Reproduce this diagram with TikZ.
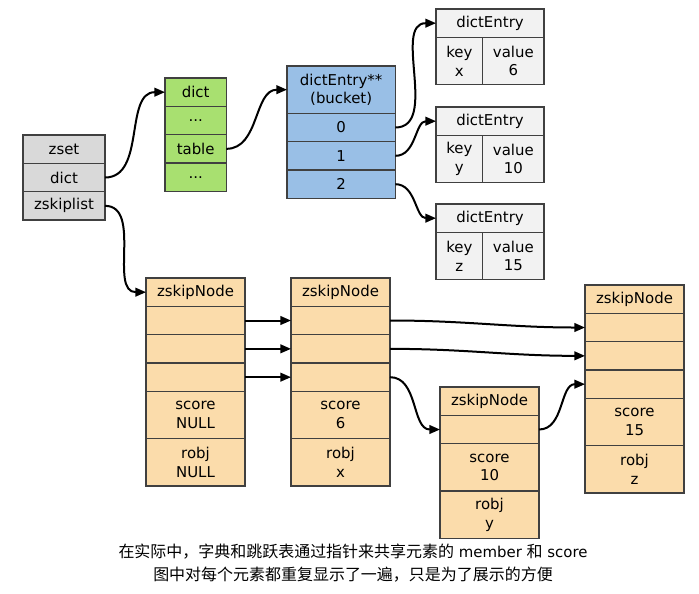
\documentclass[tikz,border=0pt]{standalone}
\usepackage{fontspec}
\setmainfont{DejaVu Sans}
\newfontfamily\cjk{Noto Sans CJK SC}[Scale=1.07]
\usepackage{xcolor}
\usetikzlibrary{positioning,arrows.meta,calc}

\definecolor{zsetgray}{HTML}{D9D9D9}
\definecolor{dictgreen}{HTML}{A8E070}
\definecolor{bucketblue}{HTML}{99BFE6}
\definecolor{entrygray}{HTML}{F2F2F2}
\definecolor{nodewheat}{HTML}{FBDCAB}

\tikzset{
  cell/.style={draw=black!75, line width=0.8pt, minimum height=21.25pt,
    inner sep=0pt, outer sep=0pt, align=center,
    font=\fontsize{11.2}{14}\selectfont},
  tall/.style={minimum height=35.5pt},
  zsetcell/.style={cell, fill=zsetgray, minimum width=61.5pt},
  dictcell/.style={cell, fill=dictgreen, minimum width=46pt},
  bucketcell/.style={cell, fill=bucketblue, minimum width=81.25pt},
  entrycell/.style={cell, fill=entrygray},
  skipcell/.style={cell, fill=nodewheat, minimum width=74.25pt},
  link/.style={-{Triangle[length=8pt,width=6.5pt]}, line width=1.5pt}
}

\begin{document}
\begin{tikzpicture}[x=0.75pt, y=-0.75pt]
    \useasboundingbox (0,0) rectangle (699,593);

    % zset
    \node[zsetcell, anchor=north west] (zset) at (23,135) {zset};
    \node[zsetcell, below=0pt of zset] (zsetdict) {dict};
    \node[zsetcell, below=0pt of zsetdict] (zsetskip) {zskiplist};

    % dict
    \node[dictcell, anchor=north west] (dict) at (165,78) {dict};
    \node[dictcell, below=0pt of dict] (dictdotsa) {...};
    \node[dictcell, below=0pt of dictdotsa] (dicttable) {table};
    \node[dictcell, below=0pt of dicttable] (dictdotsb) {...};

    % buckets
    \node[bucketcell, tall, anchor=north west] (bucket) at (287,66) {dictEntry**\\(bucket)};
    \node[bucketcell, below=0pt of bucket] (bucketa) {0};
    \node[bucketcell, below=0pt of bucketa] (bucketb) {1};
    \node[bucketcell, below=0pt of bucketb] (bucketc) {2};

    % dict entries
    \foreach \name/\y/\k/\v in {entrya/9/x/6, entryb/107/y/10, entryc/204/z/15} {
      \node[entrycell, minimum width=81pt, anchor=north west] (\name) at (436,\y) {dictEntry};
      \node[entrycell, tall, minimum width=35pt, anchor=north west] (\name key) at (\name.south west) {key\\\k};
      \node[entrycell, tall, minimum width=46pt, right=0pt of \name key] (\name val) {value\\\v};
    }

    % skiplist nodes
    \node[skipcell, anchor=north west] (nodea) at (146,278) {zskipNode};
    \node[skipcell, below=0pt of nodea] (nodealva) {};
    \node[skipcell, below=0pt of nodealva] (nodealvb) {};
    \node[skipcell, below=0pt of nodealvb] (nodealvc) {};
    \node[skipcell, tall, below=0pt of nodealvc] (nodeascore) {score\\NULL};
    \node[skipcell, tall, below=0pt of nodeascore] (nodeaobj) {robj\\NULL};

    \node[skipcell, anchor=north west] (nodeb) at (291,278) {zskipNode};
    \node[skipcell, below=0pt of nodeb] (nodeblva) {};
    \node[skipcell, below=0pt of nodeblva] (nodeblvb) {};
    \node[skipcell, below=0pt of nodeblvb] (nodeblvc) {};
    \node[skipcell, tall, below=0pt of nodeblvc] (nodebscore) {score\\6};
    \node[skipcell, tall, below=0pt of nodebscore] (nodebobj) {robj\\x};

    \node[skipcell, anchor=north west] (nodec) at (440,387) {zskipNode};
    \node[skipcell, below=0pt of nodec] (nodeclva) {};
    \node[skipcell, tall, below=0pt of nodeclva] (nodecscore) {score\\10};
    \node[skipcell, tall, below=0pt of nodecscore] (nodecobj) {robj\\y};

    \node[skipcell, anchor=north west] (noded) at (585,285) {zskipNode};
    \node[skipcell, below=0pt of noded] (nodedlva) {};
    \node[skipcell, below=0pt of nodedlva] (nodedlvb) {};
    \node[skipcell, below=0pt of nodedlvb] (nodedlvc) {};
    \node[skipcell, tall, below=0pt of nodedlvc] (nodedscore) {score\\15};
    \node[skipcell, tall, below=0pt of nodedscore] (nodedobj) {robj\\z};

    % pointers
    \draw[link] (zsetdict.east) to[out=0, in=180] (dict.west);
    \draw[link] (zsetskip.east) to[out=0, in=180] (nodea.west);
    \draw[link] (dicttable.east) to[out=0, in=180] (bucket.west);
    \draw[link] (bucketa.east) to[out=0, in=180] (entrya.west);
    \draw[link] (bucketb.east) to[out=0, in=180] (entryb.west);
    \draw[link] (bucketc.east) to[out=0, in=180] (entryc.west);

    \draw[link] (nodealva.east) -- (nodeblva.west);
    \draw[link] (nodealvb.east) -- (nodeblvb.west);
    \draw[link] (nodealvc.east) -- (nodeblvc.west);
    \draw[link] (nodeblva.east) to[out=0, in=180] (nodedlva.west);
    \draw[link] (nodeblvb.east) to[out=0, in=180] (nodedlvb.west);
    \draw[link] (nodeblvc.east) to[out=0, in=180] (nodeclva.west);
    \draw[link] (nodeclva.east) to[out=0, in=180] (nodedlvc.west);

    % note
    \node[align=center, font=\fontsize{11.2}{17}\selectfont] (note) at (353,563)
      {{\cjk 在实际中，字典和跳跃表通过指针来共享元素的} member {\cjk 和} score\\
       {\cjk 图中对每个元素都重复显示了一遍，只是为了展示的方便}};
\end{tikzpicture}
\end{document}
